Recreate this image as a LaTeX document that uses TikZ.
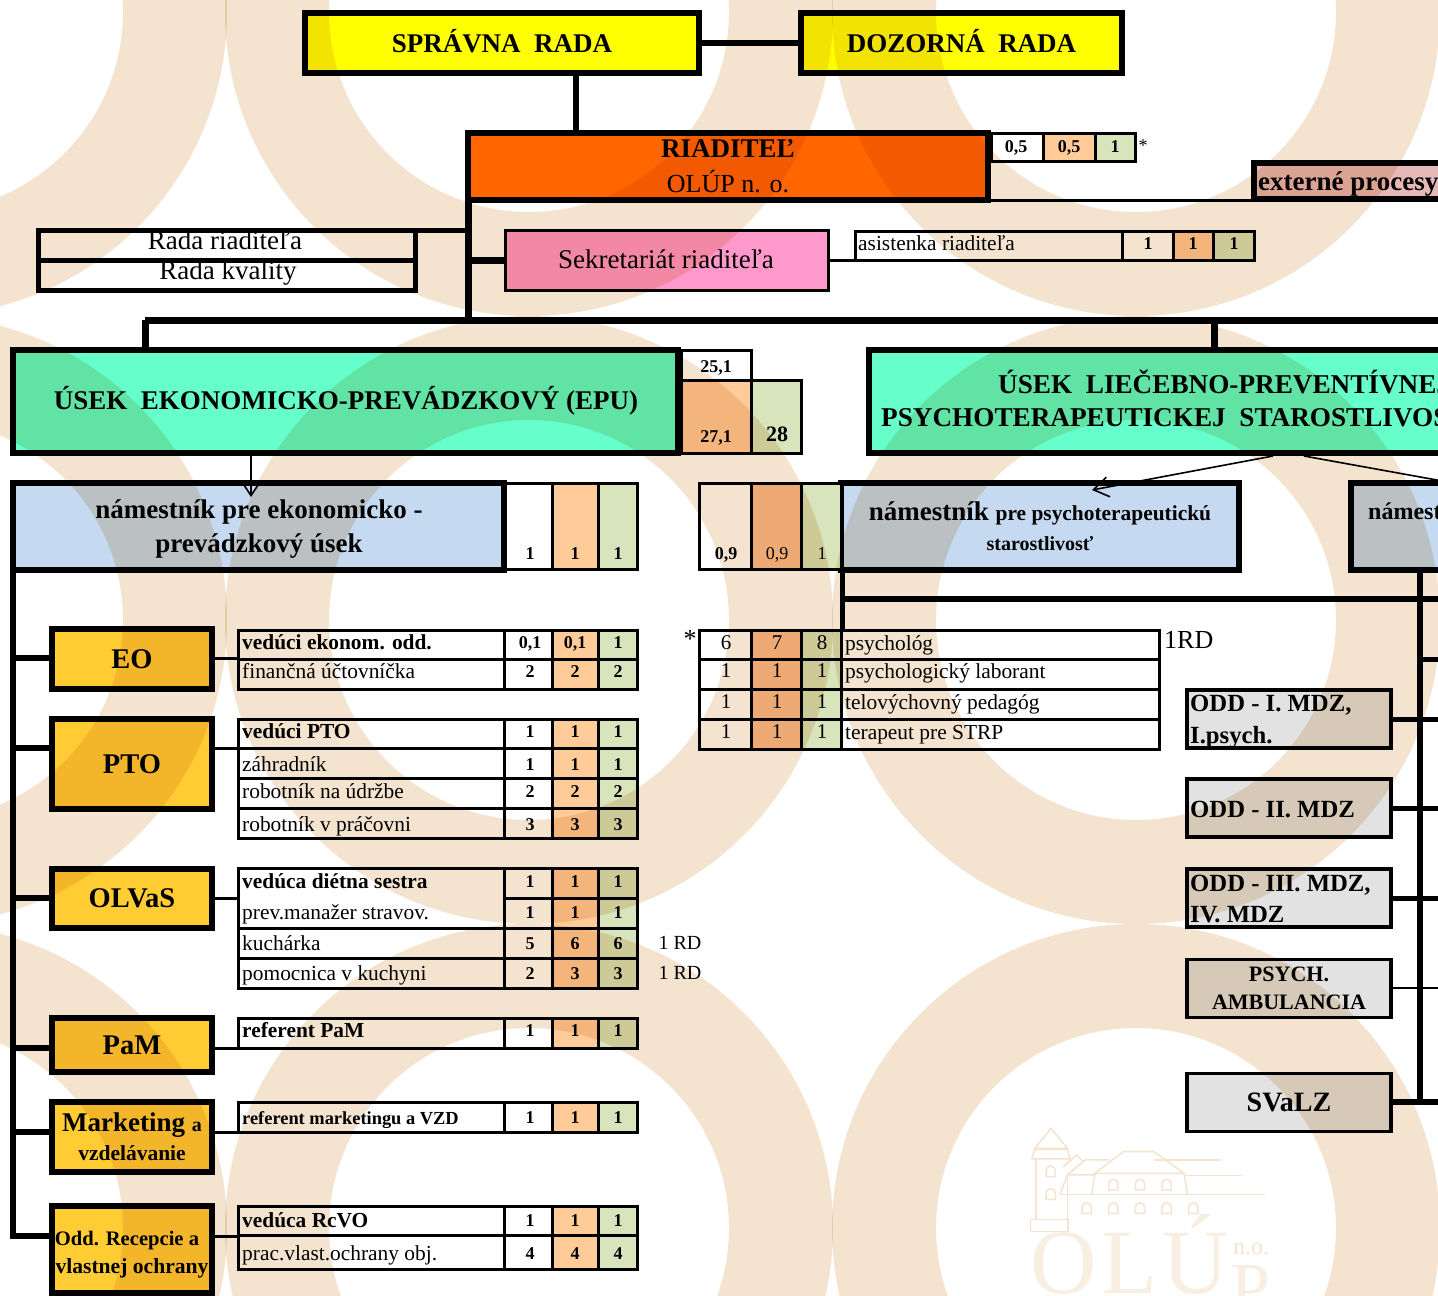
\documentclass[tikz,border=0pt]{standalone}
\usepackage{fontspec}
\setmainfont{Liberation Serif}
\usetikzlibrary{arrows.meta}
\definecolor{ringcolor}{HTML}{F3E3CF}
\definecolor{logocolor}{HTML}{F8EEE1}
\definecolor{radacolor}{HTML}{FFFF00}
\definecolor{riadcolor}{HTML}{FF6600}
\definecolor{sekrcolor}{HTML}{FF99CC}
\definecolor{extcolor}{HTML}{E6B8B7}
\definecolor{usekcolor}{HTML}{66FFCC}
\definecolor{namcolor}{HTML}{C5D9F1}
\definecolor{oddcolor}{HTML}{FFCC33}
\definecolor{liecolor}{HTML}{E2E2E2}
\definecolor{peach}{HTML}{FFCC99}
\definecolor{deeppeach}{HTML}{FABF8F}
\definecolor{pale}{HTML}{D8E4BC}

\newcommand{\fsz}[2]{\fontsize{#1}{#2}\selectfont}
\newcommand{\gridbox}[6]{\node[gridcell, fill=#6, minimum width={(#3-#2)*1pt}, minimum height={(#5-#4)*1pt}] (#1) at ({(#2+#3)/2},{(#4+#5)/2}) {};}
\newcommand{\staffvals}[7]{%
    \gridbox{#1A}{504}{552}{#2}{#3}{white}
    \gridbox{#1B}{552}{598}{#2}{#3}{peach}
    \gridbox{#1C}{598}{637}{#2}{#3}{pale}
    \node[num] (#1a) at (530,#4) {#5};
    \node[num] (#1b) at (575,#4) {#6};
    \node[num] (#1c) at (618,#4) {#7};
}
\newcommand{\staffrow}[8]{%
    \gridbox{#1L}{238}{504}{#2}{#3}{white}
    \node[lab] (#1T) at (242,#4) {#5};
    \staffvals{#1}{#2}{#3}{#4}{#6}{#7}{#8}
}
\newcommand{\psychrow}[8]{%
    \gridbox{#1A}{699}{751}{#2}{#3}{white}
    \gridbox{#1B}{751}{801}{#2}{#3}{deeppeach}
    \gridbox{#1C}{801}{841}{#2}{#3}{pale}
    \gridbox{#1L}{841}{1159}{#2}{#3}{white}
    \node[plain] (#1a) at (726,#4) {#6};
    \node[plain] (#1b) at (777,#4) {#7};
    \node[plain] (#1c) at (822,#4) {#8};
    \node[lab] (#1T) at (845,#4) {#5};
}

\begin{document}
\begin{tikzpicture}[
    x=1pt, y=-1pt,
    gridcell/.style={draw, line width=3pt, inner sep=0pt},
    bigbox/.style={draw, line width=6pt, inner sep=0pt, align=center, font=\fsz{27}{34}\bfseries},
    deptbox/.style={bigbox, fill=oddcolor, minimum width=160pt, font=\fsz{28.5}{32}\bfseries},
    liebox/.style={draw, line width=3.5pt, inner sep=0pt, fill=liecolor, minimum width=204pt, minimum height=58pt},
    lab/.style={anchor=mid west, yshift=-5pt, inner sep=0pt, font=\fsz{21.4}{24}},
    num/.style={anchor=mid, yshift=-4pt, inner sep=0pt, font=\fsz{18}{20}\bfseries},
    plain/.style={anchor=mid, yshift=-4pt, inner sep=0pt, font=\fsz{21}{24}},
    bus/.style={line width=6pt},
    wire/.style={line width=3pt},
    pointer/.style={line width=1.6pt, -{Straight Barb[length=15pt, width=20pt, line width=1.6pt]}}
]
    \useasboundingbox (0,0) rectangle (1438,1296);
    \clip (0,0) rectangle (1438,1296);
    \fill[white] (0,0) rectangle (1438,1296);

    % Top of the chart
    \node[bigbox, fill=radacolor, minimum width=394pt, minimum height=60pt] (sprava) at (502,43) {\raisebox{5pt}{SPRÁVNA\ \ RADA}};
    \node[bigbox, fill=radacolor, minimum width=321pt, minimum height=60pt] (dozor) at (961.5,43) {\raisebox{5pt}{DOZORNÁ\ \ RADA}};
    \node[bigbox, fill=riadcolor, minimum width=520pt, minimum height=67pt, font=\fsz{26}{35}] (riad) at (728,166.5) {{\fsz{27}{35}\bfseries RIADITEĽ}\\OLÚP n. o.};
    \node[bigbox, fill=extcolor, minimum width=206pt, minimum height=36pt, anchor=west] (extern) at (1251,181) {};
    \node[lab, font=\fsz{27}{30}\bfseries] (externT) at (1258,183) {externé procesy};

    \gridbox{riadA}{991}{1043}{133}{161}{white}
    \gridbox{riadB}{1043}{1095}{133}{161}{peach}
    \gridbox{riadC}{1095}{1135}{133}{161}{pale}
    \node[num] (riada) at (1016,146) {0,5};
    \node[num] (riadb) at (1069,146) {0,5};
    \node[num] (riadc) at (1115,146) {1};
    \node[plain, font=\fsz{18}{20}] (riadstar) at (1143,145) {*};

    % Rada and secretary
    \node[gridcell, line width=5pt, fill=white, minimum width=377pt, minimum height=30pt] (radaR) at (226.5,245) {};
    \node[gridcell, line width=5pt, fill=white, minimum width=377pt, minimum height=30pt] (radaK) at (226.5,275) {};
    \node[plain, font=\fsz{27}{30}] (radaRT) at (225,243) {Rada riaditeľa};
    \node[plain, font=\fsz{27}{30}] (radaKT) at (228,273) {Rada kvality};

    \gridbox{sekr}{505}{828}{230}{290}{sekrcolor}
    \node[plain, font=\fsz{27}{30}] (sekrT) at (666,262) {Sekretariát riaditeľa};
    \gridbox{asisL}{855}{1122}{231}{260}{white}
    \gridbox{asisA}{1122}{1173}{231}{260}{white}
    \gridbox{asisB}{1173}{1213}{231}{260}{peach}
    \gridbox{asisC}{1213}{1254}{231}{260}{pale}
    \node[lab] (asisT) at (858,243) {asistenka riaditeľa};
    \node[num] (asisa) at (1148,243) {1};
    \node[num] (asisb) at (1193,243) {1};
    \node[num] (asisc) at (1234,243) {1};

    % Sections
    \node[bigbox, fill=usekcolor, minimum width=665pt, minimum height=103pt] (usekE) at (345.5,401.5) {};
    \node[plain, font=\fsz{27}{32}\bfseries] (usekET) at (346,403) {ÚSEK\ \ EKONOMICKO-PREVÁDZKOVÝ (EPU)};
    \node[bigbox, fill=usekcolor, minimum width=600pt, minimum height=103pt, anchor=west] (usekL) at (866,401.5) {};
    \node[lab, font=\fsz{27.2}{32}\bfseries] (usekLa) at (998,386) {ÚSEK\ \ LIEČEBNO-PREVENTÍVNEJ};
    \node[lab, font=\fsz{27.2}{32}\bfseries] (usekLb) at (881,419) {PSYCHOTERAPEUTICKEJ\ \ STAROSTLIVOSTI};

    \gridbox{sumA}{681}{751}{350}{380}{white}
    \gridbox{sumB}{681}{751}{380}{453}{peach}
    \gridbox{sumC}{751}{801}{380}{453}{pale}
    \node[num] (suma) at (716,366) {25,1};
    \node[num] (sumb) at (716,436) {27,1};
    \node[num, font=\fsz{22}{24}\bfseries] (sumc) at (777,435) {28};

    \node[bigbox, fill=namcolor, minimum width=491pt, minimum height=87pt] (namE) at (258.5,526.5) {};
    \node[plain, font=\fsz{27}{30}\bfseries] (namEA1) at (259,512) {námestník pre ekonomicko -};
    \node[plain, font=\fsz{27}{30}\bfseries] (namEA2) at (259,546) {prevádzkový úsek};
    \node[bigbox, fill=namcolor, minimum width=398pt, minimum height=87pt] (namP) at (1040,526.5) {};
    \node[plain, font=\fsz{27}{30}\bfseries] (namPT) at (1040,514) {námestník {\fsz{21.4}{30}pre psychoterapeutickú}};
    \node[plain, font=\fsz{20}{30}\bfseries] (namPS) at (1040,544) {starostlivosť};
    \node[bigbox, fill=namcolor, minimum width=120pt, minimum height=87pt, anchor=west] (namL) at (1348,526.5) {};
    \node[lab, font=\fsz{24}{26}\bfseries] (namLT) at (1368,512) {námestník};

    \gridbox{namEA}{505}{552}{483}{569}{white}
    \gridbox{namEB}{552}{598}{483}{569}{peach}
    \gridbox{namEC}{598}{637}{483}{569}{pale}
    \node[num] (namEa) at (530,553) {1};
    \node[num] (namEb) at (575,553) {1};
    \node[num] (namEc) at (618,553) {1};
    \gridbox{namPA}{699}{751}{483}{569}{white}
    \gridbox{namPB}{751}{801}{483}{569}{deeppeach}
    \gridbox{namPC}{801}{841}{483}{569}{pale}
    \node[num] (namPa) at (726,553) {0,9};
    \node[num, font=\fsz{18}{20}] (namPb) at (777,553) {0,9};
    \node[num, font=\fsz{18}{20}] (namPc) at (822,553) {1};

    % Economic departments
    \node[deptbox, minimum height=60pt] (eo) at (132,659) {EO};
    \node[deptbox, minimum height=90pt] (pto) at (132,764) {PTO};
    \node[deptbox, minimum height=59pt] (olvas) at (132,898.5) {OLVaS};
    \node[deptbox, minimum height=54pt] (pam) at (132,1045) {PaM};
    \node[deptbox, minimum height=70pt] (mark) at (132,1137) {};
    \node[plain, font=\fsz{27}{31}\bfseries] (markA) at (132,1125) {Marketing {\fsz{20}{31}a}};
    \node[plain, font=\fsz{21.5}{31}\bfseries] (markB) at (132,1154) {vzdelávanie};
    \node[deptbox, minimum height=87pt] (recep) at (132,1249.5) {};
    \node[plain, font=\fsz{20.6}{28}\bfseries] (recepA) at (127,1239) {Odd. Recepcie a};
    \node[plain, font=\fsz{21.6}{28}\bfseries] (recepB) at (132,1267) {vlastnej ochrany};

    \staffrow{eoA}{630}{659}{642}{\textbf{vedúci ekonom. odd.}}{0,1}{0,1}{1}
    \staffrow{eoB}{659}{689}{671}{finančná účtovníčka}{2}{2}{2}
    \staffrow{ptoA}{719}{748}{731}{\textbf{vedúci PTO}}{1}{1}{1}
    \staffrow{ptoB}{748}{778}{764}{záhradník}{1}{1}{1}
    \staffrow{ptoC}{778}{808}{791}{robotník na údržbe}{2}{2}{2}
    \staffrow{ptoD}{808}{838}{824}{robotník v práčovni}{3}{3}{3}
    \gridbox{olvL}{238}{504}{868}{928}{white}
    \node[lab] (olvAT) at (242,881) {\textbf{vedúca diétna sestra}};
    \node[lab] (olvBT) at (242,912) {prev.manažer stravov.};
    \staffvals{olvA}{868}{898}{881}{1}{1}{1}
    \staffvals{olvB}{898}{928}{912}{1}{1}{1}
    \staffrow{olvC}{928}{958}{943}{kuchárka}{5}{6}{6}
    \staffrow{olvD}{958}{988}{973}{pomocnica v kuchyni}{2}{3}{3}
    \node[plain, font=\fsz{20}{24}] (rdC) at (680,943) {1 RD};
    \node[plain, font=\fsz{20}{24}] (rdD) at (680,973) {1 RD};
    \staffrow{pamA}{1018}{1048}{1030}{\textbf{referent PaM}}{1}{1}{1}
    \staffrow{mrkA}{1102}{1132}{1117}{\fsz{18.4}{20}\textbf{referent marketingu a VZD}}{1}{1}{1}
    \staffrow{rcvA}{1206}{1235}{1220}{\textbf{vedúca RcVO}}{1}{1}{1}
    \staffrow{rcvB}{1235}{1269}{1253}{prac.vlast.ochrany obj.}{4}{4}{4}

    % Psychotherapy table
    \psychrow{psyA}{630}{659}{643}{psychológ}{6}{7}{8}
    \psychrow{psyB}{659}{689}{671}{psychologický laborant}{1}{1}{1}
    \psychrow{psyC}{689}{719}{702}{telovýchovný pedagóg}{1}{1}{1}
    \psychrow{psyD}{719}{749}{732}{terapeut pre STRP}{1}{1}{1}
    \node[plain, font=\fsz{26}{30}] (psyStar) at (690,641) {*};
    \node[lab, font=\fsz{26}{30}] (psyRD) at (1164,641) {1RD};

    % Treatment wards
    \node[liebox] (oddA) at (1289,719) {};
    \node[liebox] (oddB) at (1289,808) {};
    \node[liebox] (oddC) at (1289,898) {};
    \node[liebox, align=center, font=\fsz{22}{28}\bfseries] (oddD) at (1289,988.5) {PSYCH.\\AMBULANCIA};
    \node[liebox, font=\fsz{28}{32}\bfseries] (oddE) at (1289,1102.5) {SVaLZ};
    \node[lab, font=\fsz{24.7}{30}\bfseries] (oddAa) at (1190,704) {ODD - I. MDZ,};
    \node[lab, font=\fsz{24.7}{30}\bfseries] (oddAb) at (1190,736) {I.psych.};
    \node[lab, font=\fsz{24.7}{30}\bfseries] (oddBa) at (1190,810) {ODD - II. MDZ};
    \node[lab, font=\fsz{24.7}{30}\bfseries] (oddCa) at (1190,884) {ODD - III. MDZ,};
    \node[lab, font=\fsz{24.7}{30}\bfseries] (oddCb) at (1190,915) {IV. MDZ};

    % Connectors
    \coordinate (riadIn) at (576,133);
    \coordinate (spine) at (468,200);
    \coordinate (spineEnd) at (468,320);
    \coordinate (railL) at (145,320);
    \coordinate (railLie) at (1214,320);
    \coordinate (railR) at (1438,320);
    \coordinate (leftTop) at (13,570);
    \coordinate (leftEnd) at (13,1239);
    \coordinate (rightTop) at (1420,573);
    \coordinate (rightEnd) at (1420,1102);
    \coordinate (pageR) at (1438,0);
    \coordinate (psyTop) at (842,573);
    \coordinate (psyEnd) at (842,630);
    \coordinate (arrE) at (251,497);
    \coordinate (arrP) at (1092,490);
    \coordinate (arrL) at (1470,486);

    \draw[bus] (sprava.east) -- (dozor.west |- sprava.east);
    \draw[bus] (riadIn |- sprava.south) -- (riadIn);
    \draw[wire] (riad.east |- 0,200) -- (extern.west |- 0,200);
    \draw[bus, line width=7pt] (spine) -- (spineEnd);
    \draw[line width=5pt] (radaR.east |- 0,230) -- (spine |- 0,230);
    \draw[bus, line width=7pt] (spine |- sekr.west) -- (sekr.west);
    \draw[wire] (sekr.east) -- (asisL.west |- sekr.east);
    \draw[bus, line width=7pt] (railL) -- (railR);
    \draw[bus, line width=7pt] (railL) -- (railL |- usekE.north);
    \draw[bus, line width=7pt] (railLie) -- (railLie |- usekL.north);

    \draw[pointer] (arrE |- usekE.south) -- (arrE);
    \draw[pointer] (usekL.south -| 1273,0) -- (arrP);
    \draw[line width=1.6pt] (usekL.south -| 1304,0) -- (arrL);

    \draw[bus] (leftTop) -- (leftEnd);
    \foreach \bname/\tname/\ybus in {eo/eoAL/658, pto/ptoAL/748, olvas/olvL/898, pam/pamAL/1048, mark/mrkAL/1132, recep/rcvAL/1236} {
        \draw[bus] (leftTop |- 0,\ybus) -- (\bname.west |- 0,\ybus);
        \draw[wire] (\bname.east |- 0,\ybus) -- (\tname.west |- 0,\ybus);
    }
    \draw[bus, line width=5pt] (psyTop) -- (psyEnd);
    \draw[bus] (psyTop |- 0,599) -- (pageR |- 0,599);
    \draw[bus] (rightTop) -- (rightEnd);
    \draw[bus, line width=5pt] (rightTop |- 0,659) -- (pageR |- 0,659);
    \foreach \bname/\ybus/\wd in {oddA/719/5, oddB/808/5, oddC/898/5, oddD/988/2.5, oddE/1102/6} {
        \draw[line width=\wd pt] (\bname.east |- 0,\ybus) -- (pageR |- 0,\ybus);
    }

    % Castle mark
    \begin{scope}[shift={(980,860)}, x=0.3333pt, y=-0.3333pt, draw=ringcolor, line width=1.5pt]
        \draw (165,865) -- (213,805) -- (262,865) -- cycle;
        \draw (155,897) -- (165,868) -- (262,868) -- (270,897) -- cycle;
        \draw (168,897) -- (168,1078) (262,945) -- (262,1115);
        \draw (152,1078) rectangle (265,1115);
        \draw (250,920) -- (290,885) -- (310,905);
        \draw (262,945) -- (315,900) -- (390,900);
        \draw (345,940) -- (430,875) -- (522,875) -- (612,940) -- cycle;
        \draw (522,900) -- (722,900);
        \draw (612,947) -- (787,947);
        \draw (240,1003) -- (262,945) -- (345,945);
        \draw (345,940) -- (335,1003);
        \draw (612,940) -- (622,1003);
        \draw (240,1003) -- (855,1003);
        \foreach \wx/\wy in {212/935, 212/1003, 400/975, 480/975, 560/975, 320/1045, 400/1045, 480/1045, 560/1045, 640/1045} {
            \draw (\wx-14,\wy+15) -- ++(0,-18) arc (180:360:14) -- ++(0,18) -- cycle;
        }
    \end{scope}
    \node[anchor=base west, inner sep=0pt, text=logocolor, font=\fsz{92}{92}] (logoName) at (1030,1293) {O\hspace{5pt}L\hspace{5pt}Ú};
    \node[anchor=base west, inner sep=0pt, text=logocolor, font=\fsz{72}{72}] (logoP) at (1230,1312) {P};
    \node[anchor=base west, inner sep=0pt, text=ringcolor, font=\fsz{24}{24}] (logoNo) at (1233,1254) {n.o.};

    % Watermark rings
    \begin{scope}[blend mode=multiply]
        \foreach \cx in {-77,529,1136} {
            \foreach \cy in {12,620,1228} {
                \fill[ringcolor, even odd rule] (\cx,\cy) circle (304) (\cx,\cy) circle (200);
            }
        }
    \end{scope}
\end{tikzpicture}
\end{document}
